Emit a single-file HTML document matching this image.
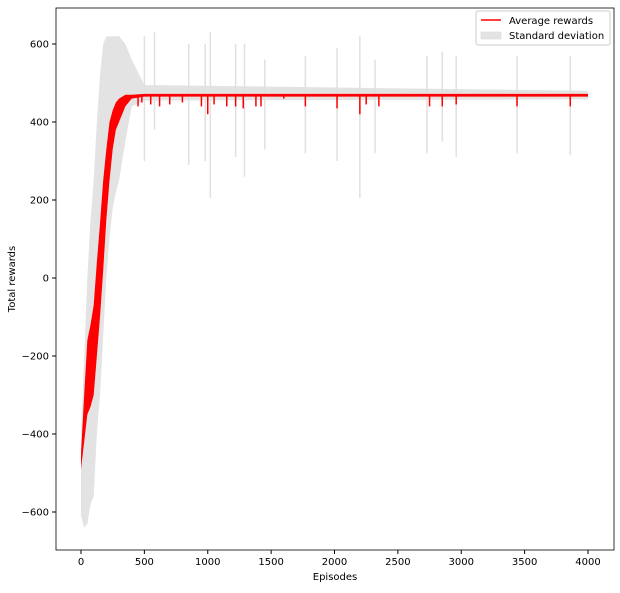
<!DOCTYPE html>
<html><head><meta charset="utf-8"><style>
body{margin:0;background:#fff;font-family:"DejaVu Sans","Liberation Sans",sans-serif;}
svg text{font-family:"DejaVu Sans","Liberation Sans",sans-serif;font-size:10px;fill:#000;}
</style></head><body>
<svg id="chart" width="620" height="589" xmlns="http://www.w3.org/2000/svg">
<g id="plot"></g>
<rect x="56" y="8" width="558" height="542" fill="none" stroke="#000" stroke-width="0.8"/>
<g id="axes"></g>
<text x="335" y="580" text-anchor="middle">Episodes</text>
<text transform="translate(15,279) rotate(-90)" text-anchor="middle">Total rewards</text>
<g>
<rect x="476" y="11" width="134" height="34" fill="#fff" stroke="#ccc" rx="2"/>
<line x1="481" y1="20" x2="501" y2="20" stroke="red" stroke-width="1.5"/>
<text x="509" y="24">Average rewards</text>
<rect x="481" y="32" width="20" height="7" fill="#e3e3e3" stroke="#d5d5d5" stroke-width="0.5"/>
<text x="509" y="39">Standard deviation</text>
</g>
</svg>
<script>
// early-phase envelopes
const rampEpisodes=[0,25,50,75,100,125,150,175,200,225,250,275,300,350,400,500,4000];
const redMin=[-490,-420,-350,-330,-300,-200,-100,20,150,250,330,380,400,440,460,465,465];
const redMax=[-450,-300,-160,-120,-70,40,140,250,330,400,430,450,460,470,470,472,472];
const stdLow=[-610,-640,-630,-580,-560,-400,-300,-150,0,100,180,220,250,350,440,455,458];
const stdHigh=[-400,-200,0,150,250,400,520,600,620,620,620,620,620,600,560,495,480];
// plateau dips in average reward
const dipEpisodes=[450,480,550,620,700,800,950,1000,1050,1150,1220,1280,1380,1420,1600,1770,2020,2200,2250,2350,2750,2850,2960,3440,3860];
const dipValues=[440,450,445,440,445,450,440,420,445,440,440,435,440,440,460,440,435,420,445,440,440,440,445,440,440];
// std spikes
const spikeEpisodes=[500,580,850,980,1020,1220,1290,1450,1770,2020,2200,2320,2730,2850,2960,3440,3860];
const spikeTops=[620,630,600,600,630,600,600,560,570,590,620,560,570,580,570,570,570];
const spikeBottoms=[300,380,290,300,205,310,260,330,320,300,205,320,320,350,310,320,315];
const xTicks=[0,500,1000,1500,2000,2500,3000,3500,4000];
const yTicks=[-600,-400,-200,0,200,400,600];
const plateau=470;

const X=v=>81+v*(507/4000);
const Y=v=>278-v*0.39;
const NS='http://www.w3.org/2000/svg';
const plot=document.getElementById('plot'),axes=document.getElementById('axes');
function mk(t,a,p){const e=document.createElementNS(NS,t);for(const k in a)e.setAttribute(k,a[k]);p.appendChild(e);return e;}
function band(lo,hi){let d='';rampEpisodes.forEach((e,i)=>d+=(i?'L':'M')+X(e)+','+Y(hi[i]));for(let i=rampEpisodes.length-1;i>=0;i--)d+='L'+X(rampEpisodes[i])+','+Y(lo[i]);return d+'Z';}
const sb=mk('path',{d:band(stdLow,stdHigh),fill:'#e3e3e3'},plot);


spikeEpisodes.forEach((e,i)=>{const l=mk('line',{x1:X(e),x2:X(e),y1:Y(spikeTops[i]),y2:Y(spikeBottoms[i]),stroke:'#e0e0e0','stroke-width':1.5},plot);

});
const rb=mk('path',{d:band(redMin,redMax),fill:'red'},plot);


dipEpisodes.forEach((e,i)=>{const l=mk('line',{x1:X(e),x2:X(e),y1:Y(plateau),y2:Y(dipValues[i]),stroke:'red','stroke-width':1.5},plot);

});
xTicks.forEach(t=>{mk('line',{x1:X(t),x2:X(t),y1:550,y2:554,stroke:'#000'},axes);const tx=mk('text',{x:X(t),y:565,'text-anchor':'middle'},axes);tx.textContent=t;

});
yTicks.forEach(t=>{mk('line',{x1:52,x2:56,y1:Y(t),y2:Y(t),stroke:'#000'},axes);const tx=mk('text',{x:49,y:Y(t)+3.5,'text-anchor':'end'},axes);tx.textContent=t<0?'\u2212'+(-t):t;

});
</script>
</body></html>
